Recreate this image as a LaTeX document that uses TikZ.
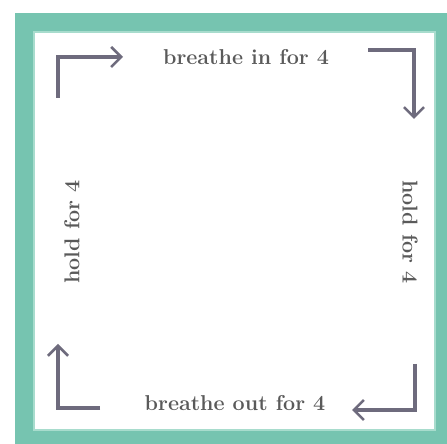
\documentclass[tikz,border=0pt]{standalone}
\usepackage{tikz}
\usetikzlibrary{arrows.meta}

\definecolor{frameteal}{HTML}{76C4B0}
\definecolor{edgeteal}{HTML}{A8DCCD}
\definecolor{arrowgray}{HTML}{6E6B7D}
\definecolor{textgray}{HTML}{5A5A5A}

\tikzset{
  steplabel/.style={text=textgray, font=\bfseries\fontsize{21.5}{24}\selectfont, inner sep=0pt},
  turnarrow/.style={arrowgray, line width=3.2pt, -{Straight Barb[length=10pt, width=20pt, line width=2.6pt]}}
}

\begin{document}
\begin{tikzpicture}[x=1pt, y=1pt]
    \useasboundingbox (0, 0) rectangle (447, 444);

    % Frame
    \fill[frameteal] (15, 0) rectangle (447, 431);
    \fill[edgeteal] (33, 13) rectangle (436, 413);
    \fill[white] (35, 15) rectangle (434, 411);

    % Labels
    \node[steplabel] (inhale) at (246, 387) {breathe in for 4};
    \node[steplabel, rotate=-90] (holdfull) at (410, 212) {hold for 4};
    \node[steplabel] (exhale) at (235, 41) {breathe out for 4};
    \node[steplabel, rotate=90] (holdempty) at (72, 212) {hold for 4};

    % Corner arrows
    \coordinate (tl-start) at (58, 346);
    \coordinate (tl-end) at (123, 387);
    \draw[turnarrow] (tl-start) |- (tl-end);

    \coordinate (tr-start) at (368, 394);
    \coordinate (tr-end) at (414, 325);
    \draw[turnarrow] (tr-start) -| (tr-end);

    \coordinate (br-start) at (415, 80);
    \coordinate (br-end) at (352, 34);
    \draw[turnarrow] (br-start) |- (br-end);

    \coordinate (bl-start) at (100, 36);
    \coordinate (bl-end) at (58, 100);
    \draw[turnarrow] (bl-start) -| (bl-end);
\end{tikzpicture}
\end{document}
